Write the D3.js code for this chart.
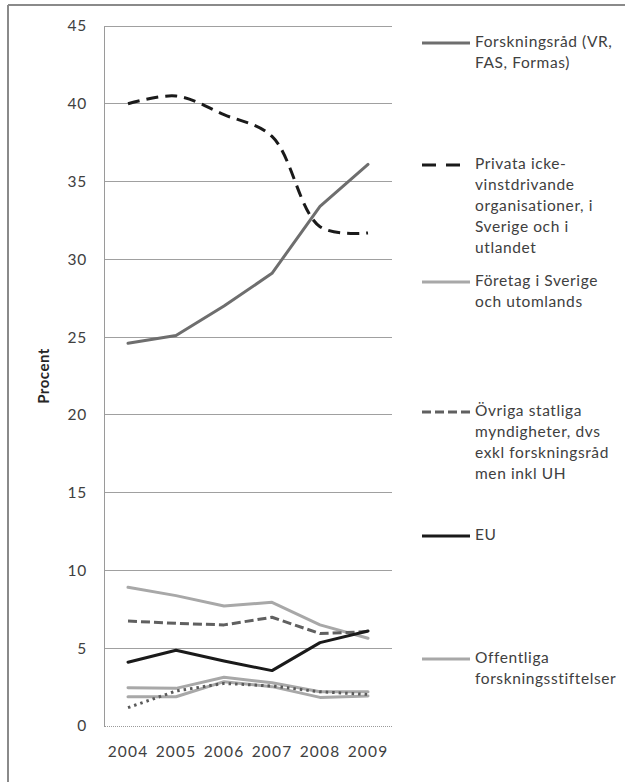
<!DOCTYPE html>
<html>
<head>
<meta charset="utf-8">
<script src="https://cdn.jsdelivr.net/npm/d3@7"></script>
<style>
  html, body { margin: 0; padding: 0; background: #fff; }
  svg { display: block; }
  text { font-family: Lato, "Open Sans", "Liberation Sans", sans-serif; }
</style>
</head>
<body>
<script>
// ---- data ----
const years = ["2004", "2005", "2006", "2007", "2008", "2009"];
const yTicks = [0, 5, 10, 15, 20, 25, 30, 35, 40, 45];
const yTitle = "Procent";

const forskningsrad = [24.6, 25.1, 27.0, 29.1, 33.4, 36.1];
const privata       = [40.0, 40.5, 39.3, 37.9, 32.1, 31.7];
const foretag       = [8.92, 8.38, 7.72, 7.95, 6.5, 5.64];
const ovriga        = [6.75, 6.6, 6.5, 6.99, 5.94, 6.07];
const eu            = [4.1, 4.87, 4.18, 3.56, 5.36, 6.11];
const offentliga    = [2.46, 2.42, 3.13, 2.78, 2.2, 2.2];
const ovrigaGray    = [1.88, 1.88, 2.85, 2.53, 1.84, 1.93];
const dotted        = [1.18, 2.25, 2.74, 2.57, 2.2, 2.03];

const legendLabels = [
  ["Forskningsråd (VR,", "FAS, Formas)"],
  ["Privata icke-", "vinstdrivande", "organisationer, i", "Sverige och i", "utlandet"],
  ["Företag i Sverige", "och utomlands"],
  ["Övriga statliga", "myndigheter, dvs", "exkl forskningsråd", "men inkl UH"],
  ["EU"],
  ["Offentliga", "forskningsstiftelser"]
];

// ---- styles ----
const series = [
  { values: ovrigaGray,    color: "#a8a8a8", dash: null,   width: 3, legend: -1 },
  { values: offentliga,    color: "#a8a8a8", dash: null,   width: 3, legend: 5 },
  { values: dotted,        color: "#5a5a5a", dash: "2.5,4", width: 3, legend: -1 },
  { values: foretag,       color: "#a8a8a8", dash: null,   width: 3, legend: 2 },
  { values: ovriga,        color: "#606060", dash: "9,4",  width: 3, legend: 3 },
  { values: eu,            color: "#1a1a1a", dash: null,   width: 3, legend: 4 },
  { values: forskningsrad, color: "#6e6e6e", dash: null,   width: 3, legend: 0 },
  { values: privata,       color: "#1a1a1a", dash: "12,7", width: 3, legend: 1, smooth: true }
];

const W = 625, H = 782;
const plot = { left: 104, right: 392, top: 26, bottom: 726 };

const svg = d3.select("body").append("svg").attr("width", W).attr("height", H);

// frame
svg.append("line").attr("x1", 8).attr("x2", W).attr("y1", 5).attr("y2", 5)
  .attr("stroke", "#8a8a8a").attr("stroke-width", 2);
svg.append("line").attr("x1", 8).attr("x2", 8).attr("y1", 5).attr("y2", H)
  .attr("stroke", "#8a8a8a").attr("stroke-width", 2);

const x = d3.scaleBand().domain(years).range([plot.left, plot.right]);
const y = d3.scaleLinear().domain([0, 45]).range([plot.bottom, plot.top]);

// gridlines
svg.append("g").selectAll("line").data(yTicks.filter(t => t > 0)).join("line")
  .attr("x1", plot.left).attr("x2", plot.right)
  .attr("y1", d => y(d)).attr("y2", d => y(d))
  .attr("stroke", "#a0a0a0").attr("stroke-width", 1).attr("shape-rendering", "crispEdges");

// y axis
const yAxis = d3.axisLeft(y).tickValues(yTicks).tickSize(0).tickPadding(17);
const gy = svg.append("g").attr("transform", `translate(${plot.left},0)`).call(yAxis);
gy.select(".domain").attr("stroke", "#9a9a9a").attr("shape-rendering", "crispEdges");
gy.selectAll("text").attr("font-size", 15.5).attr("fill", "#404040")
  .attr("letter-spacing", 0.8)
  .attr("font-family", "Lato, 'Open Sans', sans-serif");

// x axis
const xAxis = d3.axisBottom(x).tickSize(0).tickPadding(20);
const gx = svg.append("g").attr("transform", `translate(0,${plot.bottom})`).call(xAxis);
gx.select(".domain").attr("stroke", "#9a9a9a").attr("stroke-dasharray", "1,1")
  .attr("shape-rendering", "crispEdges");
gx.selectAll("text").attr("font-size", 15.5).attr("fill", "#404040")
  .attr("letter-spacing", 1.2)
  .attr("font-family", "Lato, 'Open Sans', sans-serif");

// y title
svg.append("text")
  .attr("transform", `translate(45,${(plot.top + plot.bottom) / 2}) rotate(-90)`)
  .attr("text-anchor", "middle").attr("dominant-baseline", "middle")
  .attr("font-size", 15).attr("font-weight", "bold").attr("fill", "#262626")
  .attr("letter-spacing", 0.5)
  .text(yTitle);

// lines
const cx = d => x(d) + x.bandwidth() / 2;
series.forEach(s => {
  const line = d3.line()
    .x((v, i) => cx(years[i]))
    .y(v => y(v))
    .curve(s.smooth ? d3.curveCatmullRom.alpha(0.5) : d3.curveLinear);
  svg.append("path").datum(s.values)
    .attr("d", line)
    .attr("fill", "none")
    .attr("stroke", s.color)
    .attr("stroke-width", s.width)
    .attr("stroke-dasharray", s.dash)
    .attr("stroke-linejoin", "round")
    .attr("stroke-linecap", s.dash ? "butt" : "round");
});

// legend
const legendY = [43, 165, 282, 412, 536, 659];
const lineH = 21;
series.filter(s => s.legend >= 0).forEach(s => {
  const i = s.legend;
  const g = svg.append("g").attr("transform", `translate(0,${legendY[i]})`);
  g.append("line").attr("x1", 422).attr("x2", 470).attr("y1", 0).attr("y2", 0)
    .attr("stroke", s.color).attr("stroke-width", 3)
    .attr("stroke-dasharray", s.dash === "12,7" ? "14,10" : s.dash);
  const t = g.append("text").attr("x", 475).attr("y", 0)
    .attr("font-size", 15.5).attr("fill", "#404040").attr("letter-spacing", 0.6);
  legendLabels[i].forEach((ln, k) => {
    t.append("tspan").attr("x", 475).attr("y", k * lineH)
      .attr("dominant-baseline", "middle").text(ln);
  });
});
</script>
</body>
</html>
